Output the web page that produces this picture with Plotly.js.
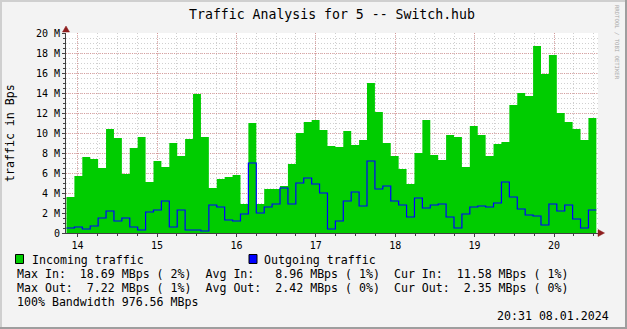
<!DOCTYPE html>
<html>
<head>
<meta charset="utf-8">
<script src="https://cdn.plot.ly/plotly-3.0.1.min.js"></script>
<style>html,body{margin:0;padding:0;background:#f3f3f3;}#chart{width:627px;height:329px;}</style>
</head>
<body>
<div id="chart"></div>
<script>
// ---- data (values in M bytes/s), one bar per ~6 minutes ----
const startHour = 13.86;
const stepHour = 0.0996;
const incoming = [3.6,5.7,7.6,7.4,6.5,10.4,9.5,5.9,8.5,9.6,5.1,7.2,6.6,9.0,7.7,9.4,13.9,9.6,4.5,5.4,5.6,5.8,2.9,11.0,2.9,4.4,4.4,4.7,6.9,10.0,11.1,11.3,10.3,8.7,8.6,10.2,8.8,9.3,15.0,12.1,9.0,7.7,6.4,4.9,8.0,11.3,7.8,7.3,9.8,9.6,6.6,10.7,9.8,7.7,8.9,9.1,12.8,14.0,13.7,18.7,15.9,17.8,12.0,11.1,10.4,9.3,11.5];
const outgoing = [0.5,0.6,0.4,0.7,1.5,2.2,1.2,1.5,0.6,0.3,2.1,2.3,3.2,0.6,2.3,0.3,0.3,0.2,2.8,2.6,1.3,1.2,1.9,7.0,2.0,2.6,2.9,4.5,2.9,5.0,5.5,4.9,4.0,0.4,1.2,3.2,4.1,2.7,7.2,4.4,4.7,3.2,2.8,1.6,3.5,2.5,2.8,2.9,1.6,0.5,1.9,2.6,2.7,2.6,3.0,5.1,3.6,2.4,1.8,1.7,0.8,2.9,2.2,2.8,1.4,0.5,2.3];
const hourTicks = [14,15,16,17,18,19,20];
const hourLabels = ['14','15','16','17','18','19','20'];
const yTickVals = [0,2,4,6,8,10,12,14,16,18,20];
const yTickText = ['0','2 M','4 M','6 M','8 M','10 M','12 M','14 M','16 M','18 M','20 M'];
const seriesNames = ['Incoming traffic','Outgoing traffic'];
const titleText = 'Traffic Analysis for 5 -- Switch.hub';
const yTitle = 'traffic in Bps';
const statLines = [
  'Max In:  18.69 MBps ( 2%)  Avg In:   8.96 MBps ( 1%)  Cur In:  11.58 MBps ( 1%)',
  'Max Out:  7.22 MBps ( 1%)  Avg Out:  2.42 MBps ( 0%)  Cur Out:  2.35 MBps ( 0%)',
  '100% Bandwidth 976.56 MBps'
];
const stampText = '20:31 08.01.2024';
const watermark = 'RRDTOOL / TOBI OETIKER';

// ---- build step series ----
const xs = [];
for (let i = 0; i <= incoming.length; i++) xs.push(startHour + i * stepHour);
const yin = incoming.concat([incoming[incoming.length - 1]]);
const yout = outgoing.concat([outgoing[outgoing.length - 1]]);

const FONT = 'DejaVu Sans Mono';
const L = 66, R = 29, T = 33, B = 96, W = 627, H = 329;
const PW = W - L - R, PH = H - T - B;
const px = v => (v - L) / PW;
const py = v => (H - B - v) / PH;
const nb = s => s.replace(/ /g, '\u00a0');

const traces = [
  {x: xs, y: yin, type: 'scatter', mode: 'lines', line: {shape: 'hv', width: 0, color: '#00cc00'},
   fill: 'tozeroy', fillcolor: '#00cc00', name: seriesNames[0], hoverinfo: 'skip'},
  {x: xs, y: yout, type: 'scatter', mode: 'lines', line: {shape: 'hv', width: 1.2, color: '#0000ff'},
   name: seriesNames[1], hoverinfo: 'skip'}
];

function ann(text, x, y, size, opts) {
  return Object.assign({text: nb(text), xref: 'paper', yref: 'paper', x: px(x), y: py(y),
    xanchor: 'left', yanchor: 'middle', showarrow: false, borderpad: 0,
    font: {family: FONT, size: size, color: '#000'}}, opts || {});
}
function seg(x0, y0, x1, y1, color, w) {
  return {type: 'line', xref: 'paper', yref: 'paper', x0: px(x0), y0: py(y0), x1: px(x1), y1: py(y1),
    line: {color: color, width: w}};
}
function rect(x0, y0, x1, y1, fill) {
  return {type: 'rect', xref: 'paper', yref: 'paper', x0: px(x0), y0: py(y0), x1: px(x1), y1: py(y1),
    fillcolor: fill, line: {color: '#000', width: 1}};
}
function tri(pts, color) {
  const p = pts.map((q, i) => (i ? 'L' : 'M') + px(q[0]) + ',' + py(q[1])).join(' ') + ' Z';
  return {type: 'path', xref: 'paper', yref: 'paper', path: p, fillcolor: color, line: {color: color, width: 0.5}};
}

const majorGrid = 'rgba(210,110,110,0.55)';
const minorGrid = 'rgba(150,150,150,0.45)';

const layout = {
  width: W, height: H,
  paper_bgcolor: '#f3f3f3', plot_bgcolor: '#ffffff',
  margin: {l: L, r: R, t: T, b: B, pad: 0},
  showlegend: false,
  title: {text: titleText, x: 0.5, xref: 'paper', xanchor: 'center', y: 1 - 14 / H, yref: 'container', yanchor: 'middle',
    font: {family: FONT, size: 13.2, color: '#000'}},
  xaxis: {
    range: [startHour - 0.5 / 79.4, startHour - 0.5 / 79.4 + PW / 79.4],
    tickmode: 'array', tickvals: hourTicks, ticktext: hourLabels,
    showgrid: true, gridcolor: majorGrid, griddash: '1px,1px', gridwidth: 1,
    showline: true, linecolor: '#404040', linewidth: 1, zeroline: false,
    ticks: 'outside', ticklen: 3, tickcolor: '#404040', tickwidth: 1,
    tickfont: {family: FONT, size: 10, color: '#000'},
    minor: {tickmode: 'linear', tick0: 14, dtick: 0.25, showgrid: true, gridcolor: minorGrid, griddash: '1px,2px',
      ticks: 'outside', ticklen: 2, tickcolor: '#404040'},
    fixedrange: true
  },
  yaxis: {
    range: [0, 20],
    tickmode: 'array', tickvals: yTickVals, ticktext: yTickText,
    showgrid: true, gridcolor: majorGrid, griddash: '1px,1px', gridwidth: 1,
    showline: true, linecolor: '#404040', linewidth: 1, zeroline: false,
    ticks: 'outside', ticklen: 3, tickcolor: '#404040', tickwidth: 1,
    tickfont: {family: FONT, size: 10, color: '#000'},
    minor: {tickmode: 'linear', tick0: 0, dtick: 0.5, showgrid: true, gridcolor: minorGrid, griddash: '1px,2px',
      ticks: 'outside', ticklen: 2, tickcolor: '#404040'},
    fixedrange: true
  },
  shapes: [
    // frame
    seg(0, 1, W, 1, '#cfcfcf', 2),
    seg(1, 0, 1, H, '#cfcfcf', 2),
    seg(W - 1, 0, W - 1, H, '#9e9e9e', 2),
    seg(0, H - 1, W, H - 1, '#9e9e9e', 2),
    // axis arrows
    tri([[62.5, 32], [69.5, 32], [66, 26]], '#8e1e1e'),
    tri([[598, 229.5], [598, 236.5], [604.5, 233]], '#8e1e1e'),
    // legend boxes
    rect(15.5, 254.5, 23.5, 263.5, '#00cc00'),
    rect(249, 254.5, 257, 263.5, '#0000ff')
  ],
  annotations: [
    ann(yTitle, 10, 133, 11.6, {xanchor: 'center', textangle: -90}),
    ann(watermark, 617, 42, 5.6, {xanchor: 'center', textangle: 90, font: {family: FONT, size: 5.6, color: '#a8a8a8'}}),
    ann(seriesNames[0], 30.5, 259.5, 11.6),
    ann(seriesNames[1], 262.5, 259.5, 11.6),
    ann(statLines[0], 15.5, 273.5, 11.6),
    ann(statLines[1], 15.5, 287.5, 11.6),
    ann(statLines[2], 15.5, 301.5, 11.6),
    ann(stampText, 610, 315.5, 11.6, {xanchor: 'right'})
  ]
};

Plotly.newPlot('chart', traces, layout, {staticPlot: true, displayModeBar: false});
</script>
</body>
</html>
